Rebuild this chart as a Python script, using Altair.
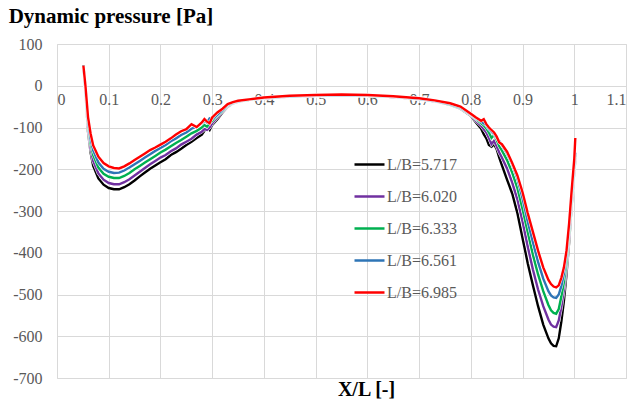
import altair as alt
import pandas as pd

# ---- data ----
X_VALUES = [0.051, 0.055, 0.06, 0.065, 0.07,
            0.08, 0.09, 0.10, 0.11, 0.12, 0.13, 0.14, 0.15, 0.16, 0.17, 0.18,
            0.19, 0.20, 0.21, 0.22, 0.23, 0.24, 0.25, 0.26, 0.27, 0.28,
            0.285, 0.29, 0.295, 0.30,
            0.31, 0.32, 0.33, 0.34, 0.35,
            0.375, 0.40, 0.45, 0.50, 0.55, 0.60, 0.65, 0.70, 0.73, 0.76, 0.78,
            0.80, 0.81, 0.82, 0.825, 0.83, 0.835, 0.84, 0.845, 0.85, 0.855, 0.86,
            0.87, 0.88, 0.89, 0.90, 0.91, 0.92, 0.93, 0.94, 0.95,
            0.955, 0.96, 0.965, 0.97, 0.975, 0.98, 0.985, 0.99, 0.995, 1.0, 1.002]

LB_5717 = [48, -15, -110, -160, -192,
           -222, -237, -245, -248, -248, -243, -236, -227, -217, -208, -199,
           -191, -183, -176, -166, -159, -151, -142, -134, -125, -117,
           -108, -100, -106, -94,
           -80, -64, -50, -42, -38,
           -33, -30, -26, -24, -23, -24, -27, -32, -37, -46, -55,
           -72, -88, -103, -116, -126, -142, -146, -140, -152, -172, -190,
           -225, -258, -305, -365, -425, -478, -528, -572, -605,
           -617, -623, -624, -605, -565, -515, -450, -375, -285, -205, -178]

LB_6020 = [48, -12, -100, -150, -180,
           -210, -225, -233, -236, -236, -231, -224, -215, -206, -197, -188,
           -180, -172, -166, -157, -150, -141, -134, -127, -117, -110,
           -104, -106, -100, -90,
           -76, -62, -49, -42, -38,
           -33, -30, -26, -24, -23, -24, -27, -32, -37, -46, -54,
           -70, -84, -96, -104, -112, -125, -140, -132, -145, -160, -172,
           -198, -232, -272, -325, -385, -440, -488, -528, -560,
           -572, -577, -578, -562, -530, -488, -432, -360, -275, -198, -172]

LB_6333 = [48, -8, -92, -138, -166,
           -196, -211, -218, -221, -221, -216, -209, -200, -192, -184, -176,
           -168, -160, -153, -145, -137, -130, -122, -114, -108, -100,
           -94, -98, -90, -84,
           -72, -60, -47, -41, -37,
           -33, -29, -25, -23, -23, -24, -26, -31, -36, -45, -53,
           -69, -80, -90, -95, -102, -112, -125, -118, -130, -145, -155,
           -178, -208, -245, -295, -350, -405, -452, -492, -525,
           -538, -544, -546, -535, -505, -470, -420, -350, -268, -192, -166]

LB_6561 = [48, -5, -85, -128, -155,
           -184, -199, -206, -209, -208, -203, -196, -188, -180, -172, -164,
           -156, -149, -142, -133, -126, -118, -112, -103, -98, -90,
           -84, -88, -78, -80,
           -70, -58, -46, -40, -37,
           -32, -29, -25, -23, -22, -23, -26, -31, -36, -44, -52,
           -68, -78, -86, -90, -95, -104, -110, -116, -125, -132, -142,
           -162, -188, -222, -270, -325, -375, -422, -462, -492,
           -502, -507, -508, -500, -480, -450, -405, -340, -260, -186, -160]

LB_6985 = [48, 0, -75, -115, -143,
           -170, -185, -193, -197, -198, -193, -186, -178, -170, -162, -154,
           -148, -141, -134, -126, -117, -109, -104, -92, -99, -88,
           -80, -86, -90, -76,
           -64, -55, -44, -39, -36,
           -32, -28, -24, -22, -21, -22, -25, -30, -35, -42, -50,
           -67, -76, -84, -80, -92, -100, -106, -112, -122, -136, -140,
           -158, -185, -215, -255, -305, -350, -395, -435, -465,
           -475, -481, -483, -478, -460, -435, -395, -330, -250, -175, -125]

SERIES_NAMES = ["L/B=5.717", "L/B=6.020", "L/B=6.333", "L/B=6.561", "L/B=6.985"]
SERIES_COLORS = ["#000000", "#7030A0", "#00B050", "#2E75B6", "#FF0000"]
SERIES_VALUES = [LB_5717, LB_6020, LB_6333, LB_6561, LB_6985]

X_TICKS = [0, 0.1, 0.2, 0.3, 0.4, 0.5, 0.6, 0.7, 0.8, 0.9, 1.0, 1.1]
Y_TICKS = [100, 0, -100, -200, -300, -400, -500, -600, -700]

rows = []
for name, vals in zip(SERIES_NAMES, SERIES_VALUES):
    for i, (xv, yv) in enumerate(zip(X_VALUES, vals)):
        rows.append({"series": name, "x": xv, "y": yv, "i": i})
df = pd.DataFrame(rows)

FONT = "Liberation Serif"
GRAY = "#595959"
GRID = "#d9d9d9"

x_enc = alt.X(
    "x:Q",
    scale=alt.Scale(domain=[0, 1.1], nice=False, zero=False),
    axis=alt.Axis(
        values=X_TICKS,
        labelExpr="format(datum.value, '~g')",
        grid=True, gridColor=GRID, gridWidth=1,
        domain=False, ticks=False,
        offset=-293, labelPadding=6,
        labelFont=FONT, labelFontSize=16, labelColor=GRAY,
        title="X/L [-]", titleFont=FONT, titleFontSize=20, titleFontWeight="bold",
        titleColor="#000000", titleX=309, titleY=310, titleAlign="center",
        titleBaseline="alphabetic",
    ),
)
y_enc = alt.Y(
    "y:Q",
    scale=alt.Scale(domain=[-700, 100], nice=False, zero=False),
    axis=alt.Axis(
        values=Y_TICKS,
        labelExpr="'' + datum.value",
        grid=True, gridColor=GRID, gridWidth=1,
        domain=False, ticks=False, labelPadding=15,
        labelFont=FONT, labelFontSize=16, labelColor=GRAY,
        title=None,
    ),
)

color_scale = alt.Scale(domain=SERIES_NAMES, range=SERIES_COLORS)
legend = alt.Legend(
    title=None, orient="none", legendX=296, legendY=104,
    symbolType="stroke", symbolSize=900, symbolStrokeWidth=2.5,
    labelFont=FONT, labelFontSize=16, labelColor=GRAY,
    rowPadding=7, labelOffset=1, padding=0,
)

base = alt.Chart(df)
layers = []
for name in SERIES_NAMES:
    sub = base.transform_filter(alt.datum.series == name)
    halo = sub.mark_line(strokeWidth=3.4, color="white").encode(
        x=x_enc, y=y_enc, order="i:Q", detail="series:N"
    )
    line = sub.mark_line(strokeWidth=2.4).encode(
        x=x_enc, y=y_enc, order="i:Q",
        color=alt.Color("series:N", scale=color_scale, legend=legend),
    )
    layers += [halo, line]

chart = alt.layer(*layers).properties(
    width=569,
    height=334,
    padding={"left": 57, "top": 44, "right": 10, "bottom": 32},
    autosize=alt.AutoSizeParams(type="none"),
    title=alt.TitleParams(
        "Dynamic pressure [Pa]", anchor="start", dx=-4, offset=9,
        font=FONT, fontSize=21, fontWeight="bold", color="#000000",
    ),
).configure_view(stroke=None).configure(background="white")

chart.save("out.html", embed_options={"renderer": "svg", "actions": False})
